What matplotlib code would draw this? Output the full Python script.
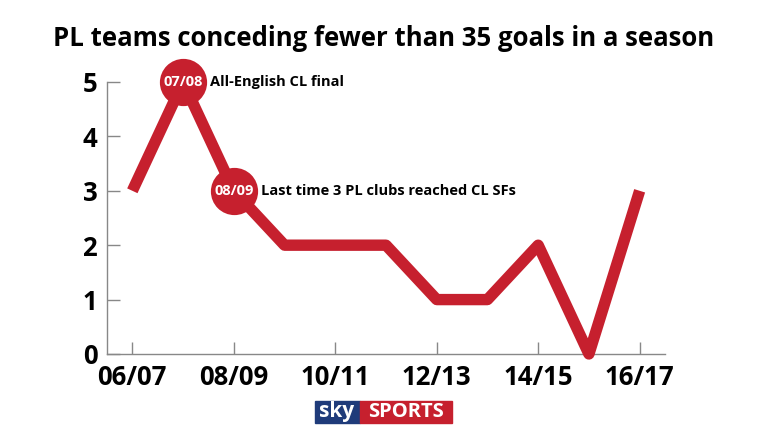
import numpy as np
from matplotlib import pyplot as plt
from matplotlib.patches import Rectangle

plt.rcParams['font.family'] = ['Open Sans', 'DejaVu Sans']

seasons = ["06/07", "07/08", "08/09", "09/10", "10/11", "11/12",
           "12/13", "13/14", "14/15", "15/16", "16/17"]
teams = [3, 5, 3, 2, 2, 2, 1, 1, 2, 0, 3]

labelled = ["06/07", "08/09", "10/11", "12/13", "14/15", "16/17"]
highlights = ["07/08", "08/09"]
notes = ["All-English CL final", "Last time 3 PL clubs reached CL SFs"]

red = "#c6202e"
navy = "#1f3b7a"

fig = plt.figure(figsize=(7.68, 4.32), dpi=100)
ax = fig.add_axes([0.1393, 0.1806, 0.7266, 0.6296])

xs = np.arange(len(seasons))
ax.plot(xs, teams, color=red, lw=8.2, solid_joinstyle='round',
        solid_capstyle='butt', clip_on=False, zorder=3)

for season, note in zip(highlights, notes):
    i = seasons.index(season)
    ax.plot(xs[i], teams[i], 'o', ms=34, color=red, mec='none',
            clip_on=False, zorder=4)
    ax.text(xs[i], teams[i], season, color='white', fontsize=10.5,
            fontweight='bold', ha='center', va='center', zorder=5)
    ax.annotate(note, (xs[i], teams[i]), xytext=(19.5, 0),
                textcoords='offset points', fontsize=10.5,
                fontweight='bold', ha='left', va='center', zorder=5)

ax.set_xlim(-0.5, len(seasons) - 0.5)
ax.set_ylim(0, 5)
ticks = [seasons.index(s) for s in labelled]
ax.set_xticks(ticks)
ax.set_xticklabels(labelled)
ax.set_yticks(range(6))

for side in ['top', 'right']:
    ax.spines[side].set_visible(False)
for side in ['left', 'bottom']:
    ax.spines[side].set_color('#888888')
    ax.spines[side].set_linewidth(1)

ax.tick_params(direction='in', length=9, color='#888888', width=1,
               labelsize=18.5)
ax.tick_params(axis='x', pad=7)
ax.tick_params(axis='y', pad=7)
for lab in ax.get_xticklabels() + ax.get_yticklabels():
    lab.set_fontweight('bold')

fig.text(0.5, 0.912, "PL teams conceding fewer than 35 goals in a season",
         ha='center', va='center', fontsize=18.5, fontweight='bold')

# logo
fig.patches.append(Rectangle((315 / 768, 1 - 423 / 432), 45 / 768, 22 / 432,
                             transform=fig.transFigure, color=navy))
fig.patches.append(Rectangle((360 / 768, 1 - 423 / 432), 92 / 768, 22 / 432,
                             transform=fig.transFigure, color=red))
fig.text(337 / 768, 1 - 412 / 432, "sky", color='white', fontsize=15,
         fontweight='bold', ha='center', va='center')
fig.text(406 / 768, 1 - 412 / 432, "SPORTS", color='white', fontsize=14.5,
         fontweight='bold', ha='center', va='center')

fig.savefig("out.png", dpi=100)
